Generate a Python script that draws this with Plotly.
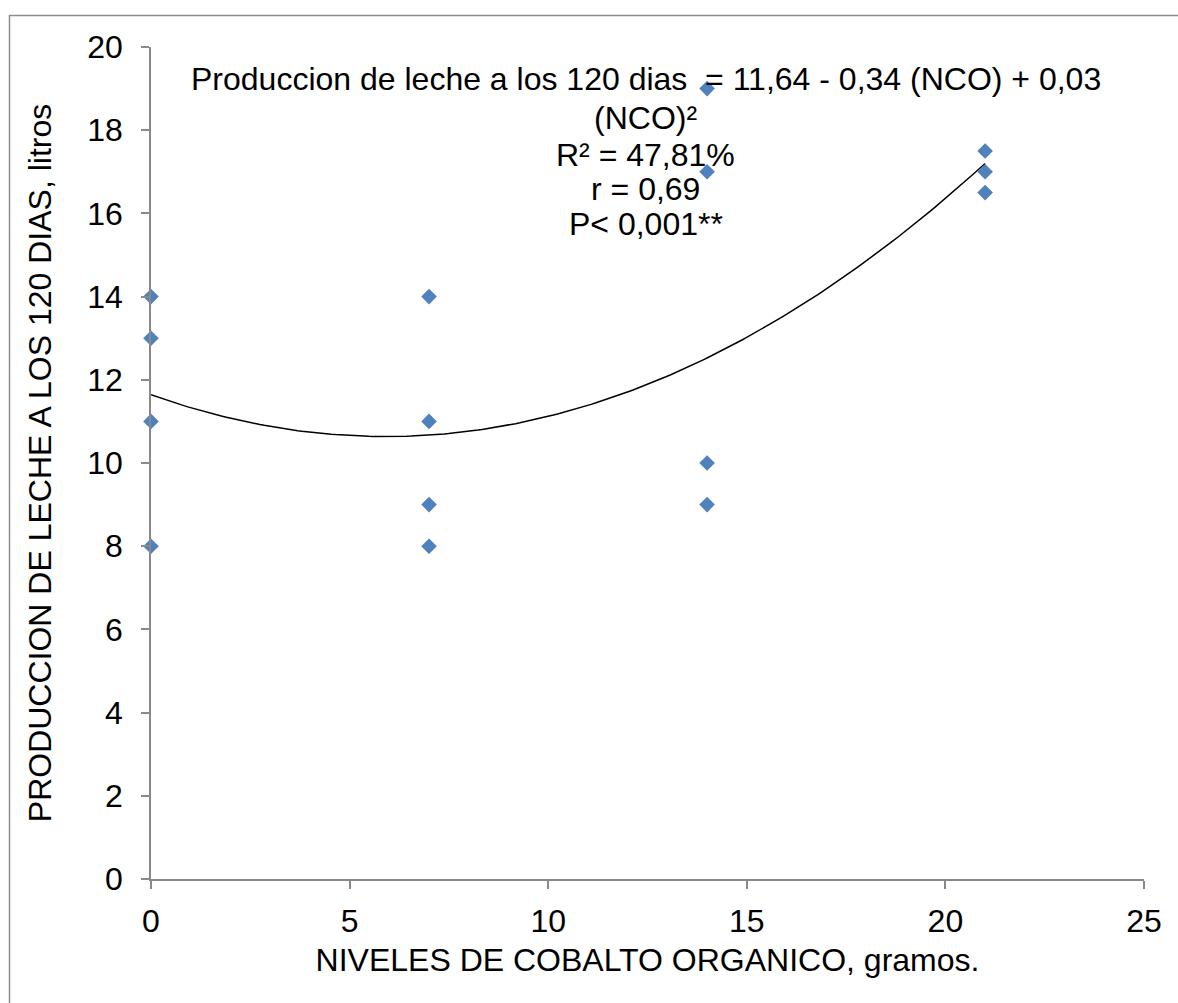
import numpy as np
import plotly.graph_objects as go

# Data
niveles_x = [0, 0, 0, 0, 7, 7, 7, 7, 14, 14, 14, 14, 21, 21, 21]
produccion_y = [14, 13, 11, 8, 14, 11, 9, 8, 19, 17, 10, 9, 17.5, 17, 16.5]

# Polynomial trend coefficients (a + b*x + c*x^2)
trend_coef = [11.64, -0.34, 0.0288]
trend_x_range = [0, 21]

x_ticks = [0, 5, 10, 15, 20, 25]
y_ticks = [0, 2, 4, 6, 8, 10, 12, 14, 16, 18, 20]

eq_lines = ["Produccion de leche a los 120 dias  = 11,64 - 0,34 (NCO) + 0,03",
            "(NCO)²",
            "R² = 47,81%",
            "r = 0,69",
            "P< 0,001**"]
eq_line_y = [19.23, 18.30, 17.41, 16.59, 15.75]
eq_x = 12.45

FONT = "Liberation Sans, Arial, sans-serif"
FS = 32
AXIS_GRAY = "#898989"

tx = np.linspace(trend_x_range[0], trend_x_range[1], 200)
ty = trend_coef[0] + trend_coef[1] * tx + trend_coef[2] * tx ** 2

fig = go.Figure()
fig.add_trace(go.Scatter(x=tx, y=ty, mode="lines",
                         line=dict(color="black", width=1.5),
                         hoverinfo="skip", showlegend=False))
fig.add_trace(go.Scatter(x=niveles_x, y=produccion_y, mode="markers",
                         marker=dict(symbol="diamond", size=12, color="#4F81BD",
                                     line=dict(width=0)),
                         cliponaxis=False, showlegend=False))

for txt, yy in zip(eq_lines, eq_line_y):
    fig.add_annotation(x=eq_x, y=yy, xref="x", yref="y", text=txt,
                       showarrow=False, yanchor="middle", xanchor="center", align="center",
                       font=dict(family=FONT, size=FS, color="black"))

# outer chart border
fig.add_shape(type="rect", xref="x domain", yref="y domain",
              x0=-0.1425, x1=1.2, y0=-0.3, y1=1.0379,
              line=dict(color="#8c8c8c", width=1.5), fillcolor="rgba(0,0,0,0)", layer="below")

fig.update_layout(
    width=1178, height=1003, autosize=False,
    margin=dict(l=151, r=34, t=47, b=124),
    paper_bgcolor="white", plot_bgcolor="white",
    font=dict(family=FONT, size=FS, color="black"),
    showlegend=False,
)
fig.update_xaxes(range=[0, 25], tickvals=x_ticks, showgrid=False, zeroline=False,
                 showline=True, linecolor=AXIS_GRAY, linewidth=1.5,
                 ticks="outside", ticklen=8, tickcolor=AXIS_GRAY, tickwidth=1.5,
                 tickfont=dict(size=FS), ticklabelstandoff=5,
                 title=dict(text="NIVELES DE COBALTO ORGANICO, gramos.",
                            font=dict(size=FS), standoff=10))
fig.update_yaxes(range=[0, 20], tickvals=y_ticks, showgrid=False, zeroline=False,
                 showline=True, linecolor=AXIS_GRAY, linewidth=1.5,
                 ticks="outside", ticklen=8, tickcolor=AXIS_GRAY, tickwidth=1.5,
                 tickfont=dict(size=FS), ticklabelstandoff=12,
                 title=dict(text="PRODUCCION DE LECHE A LOS 120 DIAS, litros",
                            font=dict(size=FS), standoff=26))

fig.write_html("out.html")
